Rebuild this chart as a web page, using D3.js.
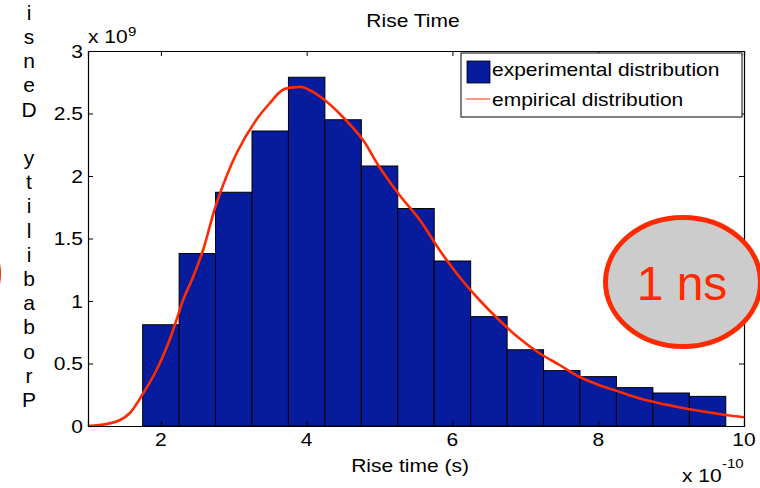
<!DOCTYPE html>
<html>
<head>
<meta charset="utf-8">
<script src="https://cdn.jsdelivr.net/npm/d3@7"></script>
<style>
  html, body { margin: 0; padding: 0; background: #fff; }
  svg { display: block; font-family: "Liberation Sans", Arial, Helvetica, sans-serif; }
</style>
</head>
<body>
<svg id="chart" width="760" height="488"></svg>
<script>
// Histogram bins: centres (x 1e-10 s) and measured densities (x 1e9)
const binCenters = [2.0, 2.5, 3.0, 3.5, 4.0, 4.5, 5.0, 5.5, 6.0, 6.5, 7.0, 7.5, 8.0, 8.5, 9.0, 9.5];
const binWidth = 0.5;
const density = [0.81, 1.38, 1.87, 2.36, 2.79, 2.45, 2.08, 1.74, 1.32, 0.875, 0.61, 0.443, 0.395, 0.307, 0.264, 0.237];

// Fitted (empirical) distribution curve
const fitX = [1.0, 1.25, 1.44, 1.575, 1.758, 1.94, 2.10, 2.215, 2.305, 2.44, 2.58, 2.763, 3.037, 3.31, 3.49, 3.675, 3.86, 3.95, 4.22, 4.50, 4.77, 5.0, 5.27, 5.55, 5.82, 6.10, 6.37, 6.64, 6.9, 7.2, 7.47, 7.74, 8.01, 8.29, 8.56, 8.84, 9.11, 9.38, 9.66, 10.0];
const fitY = [0, 0.015, 0.048, 0.104, 0.262, 0.448, 0.66, 0.85, 1.008, 1.19, 1.41, 1.78, 2.18, 2.45, 2.58, 2.69, 2.71, 2.71, 2.62, 2.47, 2.29, 2.07, 1.85, 1.65, 1.41, 1.19, 1.008, 0.848, 0.71, 0.58, 0.488, 0.394, 0.328, 0.274, 0.222, 0.182, 0.150, 0.122, 0.096, 0.070];

// Axis ticks
const xTicks = [2, 4, 6, 8, 10];
const xTickLabels = ["2", "4", "6", "8", "10"];
const yTicks = [0, 0.5, 1, 1.5, 2, 2.5, 3];
const yTickLabels = ["0", "0.5", "1", "1.5", "2", "2.5", "3"];

const legendItems = ["experimental distribution", "empirical distribution"];
const yLabel = "Probability Density";

const svg = d3.select("#chart");
const plotL = 88, plotR = 744, plotT = 51, plotB = 426;
const x = d3.scaleLinear().domain([1, 10]).range([plotL, plotR]);
const y = d3.scaleLinear().domain([0, 3]).range([plotB, plotT]);

const barFill = "#071c9c";
const red = "#ff2a00";
const TS = 17.5, SX = 1.2;

function txt(g, px, py, s, size, anchor, sx, fill) {
  return g.append("text")
    .attr("transform", `translate(${px},${py}) scale(${sx},1)`)
    .attr("text-anchor", anchor)
    .attr("font-size", size)
    .attr("fill", fill || "#000")
    .text(s);
}

// Bars
svg.append("g").selectAll("rect")
  .data(binCenters)
  .join("rect")
  .attr("x", d => x(d - binWidth / 2))
  .attr("width", d => x(d + binWidth / 2) - x(d - binWidth / 2))
  .attr("y", (d, i) => y(density[i]))
  .attr("height", (d, i) => y(0) - y(density[i]))
  .attr("fill", barFill)
  .attr("stroke", "#000")
  .attr("stroke-width", 1);

// Fitted curve
const pts = fitX.map((v, i) => [v, fitY[i]]);
svg.append("path")
  .datum(pts)
  .attr("fill", "none")
  .attr("stroke", red)
  .attr("stroke-width", 2.6)
  .attr("d", d3.line().x(d => x(d[0])).y(d => y(d[1])).curve(d3.curveCatmullRom));

// Axes box with inward ticks on all sides
const axisG = svg.append("g");
axisG.append("g").attr("transform", `translate(0,${plotB})`)
  .call(d3.axisBottom(x).tickValues(xTicks).tickSize(-5).tickFormat(""));
axisG.append("g").attr("transform", `translate(0,${plotT})`)
  .call(d3.axisTop(x).tickValues(xTicks).tickSize(-5).tickFormat(""));
axisG.append("g").attr("transform", `translate(${plotL},0)`)
  .call(d3.axisLeft(y).tickValues(yTicks).tickSize(-5).tickFormat(""));
axisG.append("g").attr("transform", `translate(${plotR},0)`)
  .call(d3.axisRight(y).tickValues(yTicks).tickSize(-5).tickFormat(""));
axisG.selectAll(".domain").attr("stroke", "#000").attr("stroke-width", 1.2);
axisG.selectAll(".tick line").attr("stroke", "#000");

// Tick labels
xTicks.forEach((t, i) => txt(svg, x(t), 446, xTickLabels[i], TS, "middle", SX));
yTicks.forEach((t, i) => txt(svg, plotL - 5, y(t) + 6.5, yTickLabels[i], TS, "end", SX));

// Exponent multipliers
txt(svg, plotL, 43, "x 10", TS, "start", SX);
txt(svg, plotL + 40, 36, "9", 12.5, "start", SX);
txt(svg, 682, 482, "x 10", TS, "start", SX);
txt(svg, 722, 468, "-10", 12.5, "start", SX);

// Title and x label
txt(svg, 413, 27, "Rise Time", TS, "middle", SX);
txt(svg, 410, 472, "Rise time (s)", TS, "middle", SX);

// Stacked y label, read bottom-to-top; letters past the top edge are not drawn
const ylG = svg.append("g");
yLabel.split("").forEach((c, k) => {
  const by = 407 - k * 24.2;
  if (c === " " || by < 14) return;
  txt(ylG, 29, by, c, 21, "middle", 1.0);
});

// Legend
const lg = svg.append("g");
lg.append("rect").attr("x", 461).attr("y", 53).attr("width", 281).attr("height", 64)
  .attr("fill", "#fff").attr("stroke", "#000").attr("stroke-width", 1);
lg.append("rect").attr("x", 467).attr("y", 61).attr("width", 23).attr("height", 22)
  .attr("fill", barFill).attr("stroke", "#000").attr("stroke-width", 0.8);
lg.append("line").attr("x1", 466).attr("x2", 490).attr("y1", 99).attr("y2", 99)
  .attr("stroke", red).attr("stroke-width", 1);
txt(lg, 492, 76, legendItems[0], TS, "start", SX);
txt(lg, 492, 106, legendItems[1], TS, "start", SX);

// Annotation bubbles
const ann = svg.append("g");
ann.append("ellipse").attr("cx", -79).attr("cy", 274).attr("rx", 77.5).attr("ry", 64.5)
  .attr("fill", "#cccccc").attr("stroke", red).attr("stroke-width", 5);
ann.append("ellipse").attr("cx", 683).attr("cy", 282).attr("rx", 77.5).attr("ry", 64.5)
  .attr("fill", "#cccccc").attr("stroke", red).attr("stroke-width", 5);
txt(ann, 682, 300, "1 ns", 48, "middle", 1.0, red);
</script>
</body>
</html>
